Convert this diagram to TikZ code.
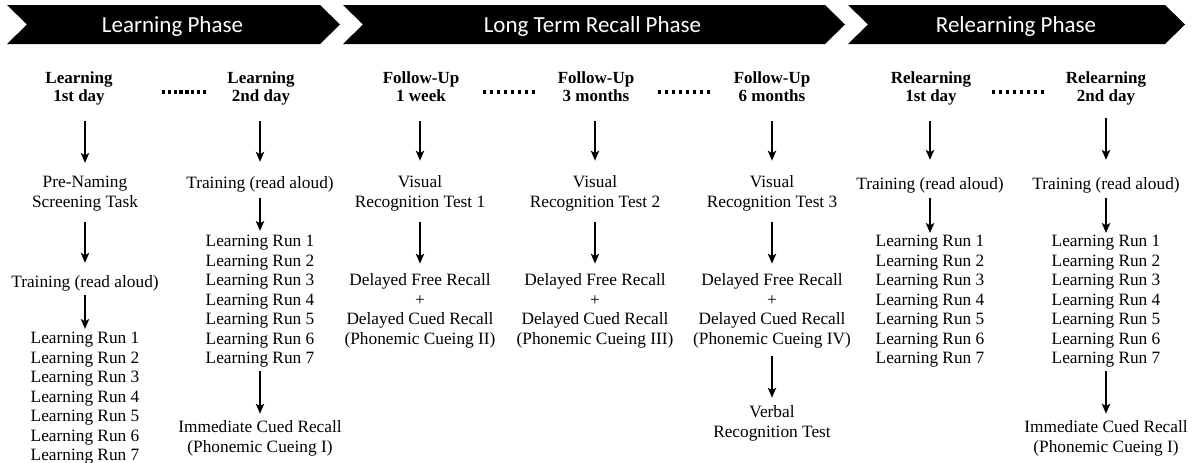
\documentclass[tikz,border=0pt]{standalone}
\usepackage{fontspec}
\setmainfont{Liberation Serif}
\newfontfamily\phasefont{Carlito}
\usetikzlibrary{arrows.meta}
\begin{document}
\begin{tikzpicture}[x=1pt,y=-1pt,
  body/.style={font=\fontsize{17.3}{19.5}\selectfont, align=center, inner sep=0pt,
    execute at begin node=\strut, execute at end node=\strut},
  head/.style={font=\fontsize{17}{18}\selectfont\bfseries, align=center, inner sep=0pt,
    execute at begin node=\strut, execute at end node=\strut},
  phase/.style={font=\phasefont\fontsize{23}{25}\selectfont, text=white, inner sep=0pt, anchor=base},
  chevron/.style={fill=black},
  arr/.style={-{Stealth[length=10pt,width=8.5pt,inset=2.5pt]}, line width=1.3pt},
  dotline/.style={line width=3.2pt}
]
\useasboundingbox (0,0) rectangle (1199,463);

% phase banners
\fill[chevron] (7,5) -- (320,5) -- (340,24.5) -- (320,44) -- (7,44) -- (27,24.5) -- cycle;
\fill[chevron] (343,5) -- (825,5) -- (845,24.5) -- (825,44) -- (343,44) -- (363,24.5) -- cycle;
\fill[chevron] (848,5) -- (1165,5) -- (1185,24.5) -- (1165,44) -- (848,44) -- (868,24.5) -- cycle;
\node[phase] (p1) at (172.5,32.4) {Learning Phase};
\node[phase] (p2) at (592.5,32.4) {Long Term Recall Phase};
\node[phase] (p3) at (1016,32.4) {Relearning Phase};

% column headers
\node[head] (h1) at (79,89.15) {Learning\\1st day};
\node[head] (h2) at (261,89.15) {Learning\\2nd day};
\node[head] (h3) at (421,89.15) {Follow-Up\\1 week};
\node[head] (h4) at (596,89.15) {Follow-Up\\3 months};
\node[head] (h5) at (772,89.15) {Follow-Up\\6 months};
\node[head] (h6) at (931,89.15) {Relearning\\1st day};
\node[head] (h7) at (1106,89.15) {Relearning\\2nd day};

% dotted separators
\coordinate (d1a) at (162,92); \coordinate (d1b) at (206,92);
\coordinate (d2a) at (483,92); \coordinate (d2b) at (535,92);
\coordinate (d3a) at (658,92); \coordinate (d3b) at (711,92);
\coordinate (d4a) at (992,92); \coordinate (d4b) at (1045,92);
\draw[dotline, dash pattern=on 3.2pt off 2.63pt] (d1a) -- (d1b);
\draw[dotline, dash pattern=on 3.2pt off 3.77pt] (d2a) -- (d2b);
\draw[dotline, dash pattern=on 3.2pt off 3.77pt] (d3a) -- (d3b);
\draw[dotline, dash pattern=on 3.2pt off 3.77pt] (d4a) -- (d4b);

% column 1
\node[body] (n1) at (85,194.55) {Pre-Naming\\Screening Task};
\node[body] (t1) at (85,283.8) {Training (read aloud)};
\node[body] (r1) at (85,399.3) {Learning Run 1\\Learning Run 2\\Learning Run 3\\Learning Run 4\\Learning Run 5\\Learning Run 6\\Learning Run 7};
% column 2
\node[body] (t2) at (260,184.8) {Training (read aloud)};
\node[body] (r2) at (260,302.3) {Learning Run 1\\Learning Run 2\\Learning Run 3\\Learning Run 4\\Learning Run 5\\Learning Run 6\\Learning Run 7};
\node[body] (i2) at (260,439.55) {Immediate Cued Recall\\(Phonemic Cueing I)};
% column 3
\node[body] (v3) at (420,194.55) {Visual\\Recognition Test 1};
\node[body] (c3) at (420,312.05) {Delayed Free Recall\\+\\Delayed Cued Recall\\(Phonemic Cueing II)};
% column 4
\node[body] (v4) at (595,194.55) {Visual\\Recognition Test 2};
\node[body] (c4) at (595,312.05) {Delayed Free Recall\\+\\Delayed Cued Recall\\(Phonemic Cueing III)};
% column 5
\node[body] (v5) at (772,194.55) {Visual\\Recognition Test 3};
\node[body] (c5) at (772,312.05) {Delayed Free Recall\\+\\Delayed Cued Recall\\(Phonemic Cueing IV)};
\node[body] (w5) at (772,424.55) {Verbal\\Recognition Test};
% column 6
\node[body] (t6) at (930,185.8) {Training (read aloud)};
\node[body] (r6) at (930,302.3) {Learning Run 1\\Learning Run 2\\Learning Run 3\\Learning Run 4\\Learning Run 5\\Learning Run 6\\Learning Run 7};
% column 7
\node[body] (t7) at (1106,185.8) {Training (read aloud)};
\node[body] (r7) at (1106,302.3) {Learning Run 1\\Learning Run 2\\Learning Run 3\\Learning Run 4\\Learning Run 5\\Learning Run 6\\Learning Run 7};
\node[body] (i7) at (1106,439.55) {Immediate Cued Recall\\(Phonemic Cueing I)};

% arrows
\draw[arr, shorten <=13.85pt, shorten >=13.05pt] (h1.south -| n1) -- (n1.north);
\draw[arr, shorten <=8.95pt, shorten >=11.05pt] (n1.south) -- (t1.north);
\draw[arr, shorten <=1.45pt, shorten >=3.05pt] (t1.south) -- (r1.north);

\draw[arr, shorten <=13.85pt, shorten >=13.05pt] (h2.south -| t2) -- (t2.north);
\draw[arr, shorten <=3.45pt, shorten >=4.05pt] (t2.south) -- (r2.north);
\draw[arr, shorten <=1.45pt, shorten >=7.05pt] (r2.south) -- (i2.north);

\draw[arr, shorten <=13.85pt, shorten >=15.05pt] (h3.south -| v3) -- (v3.north);
\draw[arr, shorten <=8.95pt, shorten >=10.05pt] (v3.south) -- (c3.north);

\draw[arr, shorten <=13.85pt, shorten >=15.05pt] (h4.south -| v4) -- (v4.north);
\draw[arr, shorten <=8.95pt, shorten >=10.05pt] (v4.south) -- (c4.north);

\draw[arr, shorten <=13.85pt, shorten >=15.05pt] (h5.south -| v5) -- (v5.north);
\draw[arr, shorten <=8.95pt, shorten >=10.05pt] (v5.south) -- (c5.north);
\draw[arr, shorten <=5.95pt, shorten >=8.05pt] (c5.south) -- (w5.north);

\draw[arr, shorten <=13.85pt, shorten >=16.05pt] (h6.south -| t6) -- (t6.north);
\draw[arr, shorten <=2.45pt, shorten >=2.05pt] (t6.south) -- (r6.north);

\draw[arr, shorten <=10.85pt, shorten >=16.05pt] (h7.south -| t7) -- (t7.north);
\draw[arr, shorten <=2.45pt, shorten >=2.05pt] (t7.south) -- (r7.north);
\draw[arr, shorten <=1.45pt, shorten >=7.05pt] (r7.south) -- (i7.north);
\end{tikzpicture}
\end{document}
